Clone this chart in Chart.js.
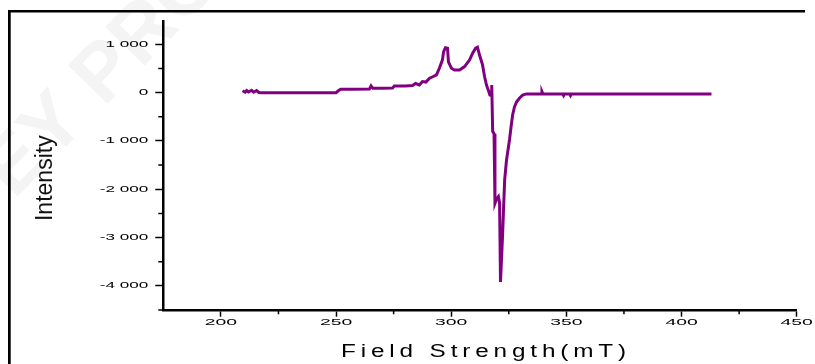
<!DOCTYPE html>
<html><head><meta charset="utf-8">
<script src="https://cdn.jsdelivr.net/npm/chart.js@4.4.0/dist/chart.umd.min.js"></script>
<style>
html,body{margin:0;padding:0;background:#fff;overflow:hidden}
canvas{display:block}
</style></head>
<body>
<canvas id="c" width="815" height="364"></canvas>
<script>
const FIELD = [209.4,210.5,211.2,212,213.3,214.2,215.5,216.5,218,230,240,250,251,252,258,264.5,265.2,266,270,274.5,275.3,280,283.2,284.5,286.2,287.5,289,290.6,292,293.6,294.9,296.2,296.7,297.5,298.4,298.8,300.1,301.4,303.6,305.8,308.0,309.3,310.6,311.4,312.3,313.6,314.5,315.3,316.2,316.8,317.4,317.6,318.0,318.6,319.0,319.7,320.5,321.0,321.4,322.3,323.2,324.0,325.3,326.0,326.7,327.5,328.4,329.7,331,332.7,339,339.4,339.8,348.4,348.8,349.2,351.4,351.8,352.2,380,413];
const INTENSITY = [40,10,45,15,50,10,45,5,0,0,0,0,40,70,70,75,140,90,90,95,140,140,150,190,160,230,220,300,330,370,510,680,850,930,920,640,505,470,470,540,680,820,920,940,780,575,330,160,40,-50,-60,160,-800,-850,-2290,-2200,-2150,-2280,-3920,-2950,-1810,-1400,-980,-700,-450,-290,-190,-110,-50,-25,-25,20,-25,-25,-60,-25,-25,-60,-25,-25,-25];
const X_MAJOR_TICKS = [200,250,300,350,400,450];
const X_MINOR_TICKS = [225,275,325,375,425];
const Y_MAJOR_TICKS = [-4000,-3000,-2000,-1000,0,1000];
const Y_MINOR_TICKS = [-4500,-3500,-2500,-1500,-500,500];
const X_TITLE = 'Field Strength(mT)';
const Y_TITLE = 'Intensity';
const WATERMARK = 'EY PRO';

const FONT = "'Liberation Sans', Arial, sans-serif";
function fmt(v){ return String(v).replace(/\B(?=(\d{3})+(?!\d))/g, ' '); }

function patchText(scale, method, sx, dx, dy, spacing) {
  const orig = scale[method];
  scale[method] = function(...args) {
    const ctx = this.ctx;
    const fill = CanvasRenderingContext2D.prototype.fillText;
    ctx.save();
    ctx.translate(dx, dy);
    if (spacing) ctx.letterSpacing = spacing;
    ctx.fillText = function(t, x, y, m) {
      this.save(); this.scale(sx, 1);
      if (spacing) this.letterSpacing = spacing;
      if (m === undefined) fill.call(this, t, x / sx, y);
      else fill.call(this, t, x / sx, y, m / sx);
      this.restore();
    };
    try { orig.apply(this, args); } finally { delete ctx.fillText; ctx.restore(); }
  };
}

const decor = {
  id: 'decor',
  beforeDraw(chart) {
    const {ctx, scales: {x, y}} = chart;
    if (!x._patched) {
      patchText(x, 'drawLabels', 2.15, 0, 0);
      patchText(x, 'drawTitle', 1.35, 6, 2, '3.6px');
      patchText(y, 'drawLabels', 1.9, 0, 0);
      patchText(y, 'drawTitle', 1, 0, 12);
      x._patched = true;
    }
    ctx.save();
    ctx.fillStyle = '#f4f4f4';
    ctx.font = 'bold 80px ' + FONT;
    ctx.translate(14, 200);
    ctx.rotate(-0.8);
    ctx.fillText(WATERMARK, 0, 0);
    ctx.restore();
  },
  afterDraw(chart) {
    const {ctx, scales: {x, y}} = chart;
    ctx.save();
    ctx.strokeStyle = '#000';
    ctx.lineWidth = 1.5;
    ctx.beginPath();
    X_MINOR_TICKS.forEach(v => { const p = x.getPixelForValue(v); ctx.moveTo(p, x.top); ctx.lineTo(p, x.top + 3.5); });
    Y_MINOR_TICKS.forEach(v => { const p = y.getPixelForValue(v); ctx.moveTo(y.right - 5, p); ctx.lineTo(y.right, p); });
    ctx.stroke();
    ctx.fillStyle = '#000';
    ctx.fillRect(8, 10, 797, 2.5);
    ctx.fillRect(8, 10, 2.7, 354);
    ctx.restore();
  }
};

new Chart(document.getElementById('c'), {
  type: 'line',
  data: {
    datasets: [{
      data: FIELD.map((f, i) => ({x: f, y: INTENSITY[i]})),
      borderColor: '#800080',
      borderWidth: 3,
      pointRadius: 0,
      tension: 0,
      fill: false
    }]
  },
  options: {
    responsive: false,
    maintainAspectRatio: false,
    animation: false,
    events: [],
    layout: { padding: { top: 21.7, right: 18.3, left: 0, bottom: 0 } },
    plugins: { legend: { display: false }, tooltip: { enabled: false } },
    scales: {
      x: {
        type: 'linear',
        min: 175, max: 450,
        afterBuildTicks: s => { s.ticks = X_MAJOR_TICKS.map(v => ({value: v})); },
        afterFit: s => { s.height = 53.3; },
        grid: { drawOnChartArea: false, drawTicks: true, tickLength: 6, tickColor: '#000', tickWidth: 1.5 },
        border: { display: true, color: '#000', width: 2.5 },
        ticks: { autoSkip: false, maxRotation: 0, padding: 0, color: '#000', font: { family: FONT, size: 9 }, callback: v => fmt(v) },
        title: { display: true, text: X_TITLE, color: '#000', font: { family: FONT, size: 18 }, padding: { top: 0, bottom: 3 } }
      },
      y: {
        type: 'linear',
        min: -4515, max: 1470,
        afterBuildTicks: s => { s.ticks = Y_MAJOR_TICKS.map(v => ({value: v})); },
        afterFit: s => { s.width = 163.3; },
        grid: { drawOnChartArea: false, drawTicks: true, tickLength: 8, tickColor: '#000', tickWidth: 1.5 },
        border: { display: true, color: '#000', width: 2.5 },
        ticks: { autoSkip: false, padding: 7, color: '#000', font: { family: FONT, size: 9 }, callback: v => fmt(v) },
        title: { display: true, text: Y_TITLE, color: '#111', font: { family: FONT, size: 23 }, padding: { top: 32, bottom: 0 } }
      }
    }
  },
  plugins: [decor]
});
</script>
</body></html>
